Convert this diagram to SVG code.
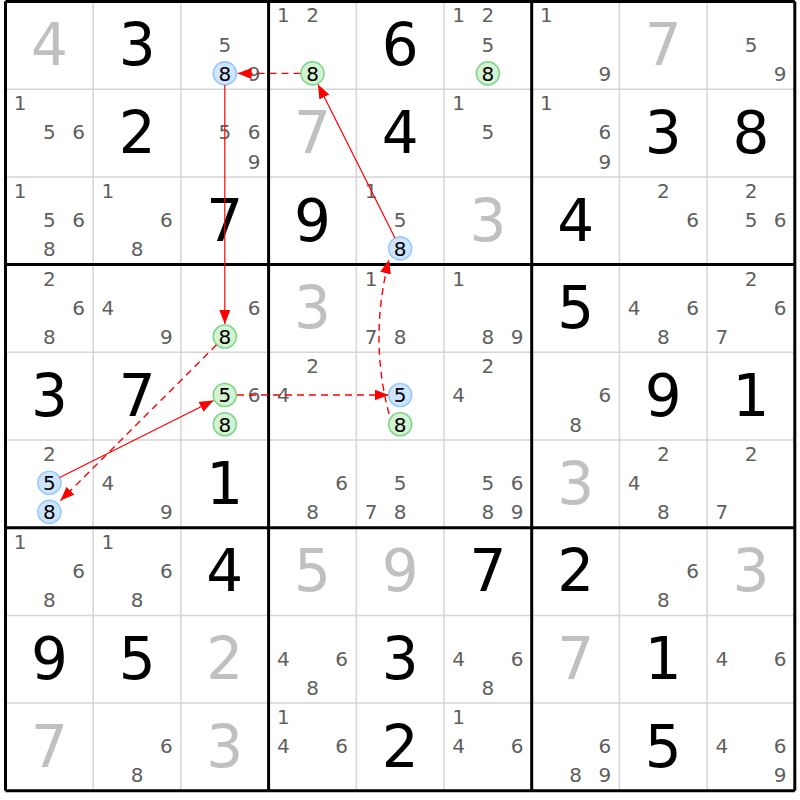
<svg xmlns="http://www.w3.org/2000/svg" width="800" height="800" viewBox="0 0 800 800">
<style>
text{font-family:"DejaVu Sans","Liberation Sans",sans-serif;text-anchor:middle}
.c{font-size:20px;fill:#5f5f5f}
.h{font-size:20px;fill:#000}
.g{font-size:58px;fill:#000}
.s{font-size:58px;fill:#c0c0c0}
.thin{stroke:#d6d6d6;stroke-width:1.5}
.thick{stroke:#000;stroke-width:3}
.cb{fill:#cfe5ff;stroke:#95c8ff;stroke-width:1.6}
.cg{fill:#d3f3d3;stroke:#7fd68a;stroke-width:1.6}
.ar{fill:none;stroke:#ff0000;stroke-width:1.2}
.ad{fill:none;stroke:#ff0000;stroke-width:1.4;stroke-dasharray:7 5}
</style>
<defs>
<marker id="ah" viewBox="0 0 14 11" refX="14" refY="5.5" markerWidth="14" markerHeight="11" orient="auto" markerUnits="userSpaceOnUse"><path d="M0,0 L14,5.5 L0,11 z" fill="#ff0000"/></marker>
</defs>
<rect x="0" y="0" width="800" height="800" fill="#fff"/>
<g id="grid">
<path class="thin" d="M93.2,1.5V790.8M180.9,1.5V790.8M356.3,1.5V790.8M444,1.5V790.8M619.4,1.5V790.8M707.1,1.5V790.8M5.5,89.2H794.8M5.5,176.9H794.8M5.5,352.3H794.8M5.5,440H794.8M5.5,615.4H794.8M5.5,703.1H794.8"/>
<path class="thick" d="M5.5,1.5V790.8M268.6,1.5V790.8M531.7,1.5V790.8M794.8,1.5V790.8M5.5,1.5H794.8M5.5,264.6H794.8M5.5,527.7H794.8M5.5,790.8H794.8"/>
</g>
<g id="r1">
<g id="r1c1"><text class="s" x="49.4" y="65.1">4</text></g>
<g id="r1c2"><text class="g" x="137.1" y="65.1">3</text></g>
<g id="r1c3"><text class="c" x="224.8" y="51.6">5</text><text class="c" x="254" y="80.8">9</text><circle class="cb" cx="224.8" cy="73.4" r="11.5"/><text class="h" x="224.8" y="80.8">8</text></g>
<g id="r1c4"><text class="c" x="283.3" y="22.4">1</text><text class="c" x="312.5" y="22.4">2</text><circle class="cg" cx="312.5" cy="73.4" r="11.5"/><text class="h" x="312.5" y="80.8">8</text></g>
<g id="r1c5"><text class="g" x="400.2" y="65.1">6</text></g>
<g id="r1c6"><text class="c" x="458.7" y="22.4">1</text><text class="c" x="487.9" y="22.4">2</text><text class="c" x="487.9" y="51.6">5</text><circle class="cg" cx="487.9" cy="73.4" r="11.5"/><text class="h" x="487.9" y="80.8">8</text></g>
<g id="r1c7"><text class="c" x="546.4" y="22.4">1</text><text class="c" x="604.8" y="80.8">9</text></g>
<g id="r1c8"><text class="s" x="663.3" y="65.1">7</text></g>
<g id="r1c9"><text class="c" x="751" y="51.6">5</text><text class="c" x="780.2" y="80.8">9</text></g>
</g>
<g id="r2">
<g id="r2c1"><text class="c" x="20.2" y="110.1">1</text><text class="c" x="49.4" y="139.3">5</text><text class="c" x="78.6" y="139.3">6</text></g>
<g id="r2c2"><text class="g" x="137.1" y="152.8">2</text></g>
<g id="r2c3"><text class="c" x="224.8" y="139.3">5</text><text class="c" x="254" y="139.3">6</text><text class="c" x="254" y="168.5">9</text></g>
<g id="r2c4"><text class="s" x="312.5" y="152.8">7</text></g>
<g id="r2c5"><text class="g" x="400.2" y="152.8">4</text></g>
<g id="r2c6"><text class="c" x="458.7" y="110.1">1</text><text class="c" x="487.9" y="139.3">5</text></g>
<g id="r2c7"><text class="c" x="546.4" y="110.1">1</text><text class="c" x="604.8" y="139.3">6</text><text class="c" x="604.8" y="168.5">9</text></g>
<g id="r2c8"><text class="g" x="663.3" y="152.8">3</text></g>
<g id="r2c9"><text class="g" x="751" y="152.8">8</text></g>
</g>
<g id="r3">
<g id="r3c1"><text class="c" x="20.2" y="197.8">1</text><text class="c" x="49.4" y="227">5</text><text class="c" x="78.6" y="227">6</text><text class="c" x="49.4" y="256.2">8</text></g>
<g id="r3c2"><text class="c" x="107.9" y="197.8">1</text><text class="c" x="166.3" y="227">6</text><text class="c" x="137.1" y="256.2">8</text></g>
<g id="r3c3"><text class="g" x="224.8" y="240.5">7</text></g>
<g id="r3c4"><text class="g" x="312.5" y="240.5">9</text></g>
<g id="r3c5"><text class="c" x="371" y="197.8">1</text><text class="c" x="400.2" y="227">5</text><circle class="cb" cx="400.2" cy="248.4" r="11.5"/><text class="h" x="400.2" y="255.8">8</text></g>
<g id="r3c6"><text class="s" x="487.9" y="240.5">3</text></g>
<g id="r3c7"><text class="g" x="575.6" y="240.5">4</text></g>
<g id="r3c8"><text class="c" x="663.3" y="197.8">2</text><text class="c" x="692.5" y="227">6</text></g>
<g id="r3c9"><text class="c" x="751" y="197.8">2</text><text class="c" x="751" y="227">5</text><text class="c" x="780.2" y="227">6</text></g>
</g>
<g id="r4">
<g id="r4c1"><text class="c" x="49.4" y="285.5">2</text><text class="c" x="78.6" y="314.7">6</text><text class="c" x="49.4" y="343.9">8</text></g>
<g id="r4c2"><text class="c" x="107.9" y="314.7">4</text><text class="c" x="166.3" y="343.9">9</text></g>
<g id="r4c3"><text class="c" x="254" y="314.7">6</text><circle class="cg" cx="224.8" cy="336.5" r="11.5"/><text class="h" x="224.8" y="343.9">8</text></g>
<g id="r4c4"><text class="s" x="312.5" y="328.2">3</text></g>
<g id="r4c5"><text class="c" x="371" y="285.5">1</text><text class="c" x="371" y="343.9">7</text><text class="c" x="400.2" y="343.9">8</text></g>
<g id="r4c6"><text class="c" x="458.7" y="285.5">1</text><text class="c" x="487.9" y="343.9">8</text><text class="c" x="517.1" y="343.9">9</text></g>
<g id="r4c7"><text class="g" x="575.6" y="328.2">5</text></g>
<g id="r4c8"><text class="c" x="634.1" y="314.7">4</text><text class="c" x="692.5" y="314.7">6</text><text class="c" x="663.3" y="343.9">8</text></g>
<g id="r4c9"><text class="c" x="751" y="285.5">2</text><text class="c" x="780.2" y="314.7">6</text><text class="c" x="721.8" y="343.9">7</text></g>
</g>
<g id="r5">
<g id="r5c1"><text class="g" x="49.4" y="415.9">3</text></g>
<g id="r5c2"><text class="g" x="137.1" y="415.9">7</text></g>
<g id="r5c3"><text class="c" x="254" y="402.4">6</text><circle class="cg" cx="224.8" cy="395" r="11.5"/><text class="h" x="224.8" y="402.4">5</text><circle class="cg" cx="224.8" cy="424.2" r="11.5"/><text class="h" x="224.8" y="431.6">8</text></g>
<g id="r5c4"><text class="c" x="312.5" y="373.2">2</text><text class="c" x="283.3" y="402.4">4</text></g>
<g id="r5c5"><circle class="cb" cx="400.2" cy="395" r="11.5"/><text class="h" x="400.2" y="402.4">5</text><circle class="cg" cx="400.2" cy="424.2" r="11.5"/><text class="h" x="400.2" y="431.6">8</text></g>
<g id="r5c6"><text class="c" x="487.9" y="373.2">2</text><text class="c" x="458.7" y="402.4">4</text></g>
<g id="r5c7"><text class="c" x="604.8" y="402.4">6</text><text class="c" x="575.6" y="431.6">8</text></g>
<g id="r5c8"><text class="g" x="663.3" y="415.9">9</text></g>
<g id="r5c9"><text class="g" x="751" y="415.9">1</text></g>
</g>
<g id="r6">
<g id="r6c1"><text class="c" x="49.4" y="460.9">2</text><circle class="cb" cx="49.4" cy="482.7" r="11.5"/><text class="h" x="49.4" y="490.1">5</text><circle class="cb" cx="49.4" cy="511.9" r="11.5"/><text class="h" x="49.4" y="519.3">8</text></g>
<g id="r6c2"><text class="c" x="107.9" y="490.1">4</text><text class="c" x="166.3" y="519.3">9</text></g>
<g id="r6c3"><text class="g" x="224.8" y="503.6">1</text></g>
<g id="r6c4"><text class="c" x="341.7" y="490.1">6</text><text class="c" x="312.5" y="519.3">8</text></g>
<g id="r6c5"><text class="c" x="400.2" y="490.1">5</text><text class="c" x="371" y="519.3">7</text><text class="c" x="400.2" y="519.3">8</text></g>
<g id="r6c6"><text class="c" x="487.9" y="490.1">5</text><text class="c" x="517.1" y="490.1">6</text><text class="c" x="487.9" y="519.3">8</text><text class="c" x="517.1" y="519.3">9</text></g>
<g id="r6c7"><text class="s" x="575.6" y="503.6">3</text></g>
<g id="r6c8"><text class="c" x="663.3" y="460.9">2</text><text class="c" x="634.1" y="490.1">4</text><text class="c" x="663.3" y="519.3">8</text></g>
<g id="r6c9"><text class="c" x="751" y="460.9">2</text><text class="c" x="721.8" y="519.3">7</text></g>
</g>
<g id="r7">
<g id="r7c1"><text class="c" x="20.2" y="548.6">1</text><text class="c" x="78.6" y="577.8">6</text><text class="c" x="49.4" y="607">8</text></g>
<g id="r7c2"><text class="c" x="107.9" y="548.6">1</text><text class="c" x="166.3" y="577.8">6</text><text class="c" x="137.1" y="607">8</text></g>
<g id="r7c3"><text class="g" x="224.8" y="591.3">4</text></g>
<g id="r7c4"><text class="s" x="312.5" y="591.3">5</text></g>
<g id="r7c5"><text class="s" x="400.2" y="591.3">9</text></g>
<g id="r7c6"><text class="g" x="487.9" y="591.3">7</text></g>
<g id="r7c7"><text class="g" x="575.6" y="591.3">2</text></g>
<g id="r7c8"><text class="c" x="692.5" y="577.8">6</text><text class="c" x="663.3" y="607">8</text></g>
<g id="r7c9"><text class="s" x="751" y="591.3">3</text></g>
</g>
<g id="r8">
<g id="r8c1"><text class="g" x="49.4" y="679">9</text></g>
<g id="r8c2"><text class="g" x="137.1" y="679">5</text></g>
<g id="r8c3"><text class="s" x="224.8" y="679">2</text></g>
<g id="r8c4"><text class="c" x="283.3" y="665.5">4</text><text class="c" x="341.7" y="665.5">6</text><text class="c" x="312.5" y="694.7">8</text></g>
<g id="r8c5"><text class="g" x="400.2" y="679">3</text></g>
<g id="r8c6"><text class="c" x="458.7" y="665.5">4</text><text class="c" x="517.1" y="665.5">6</text><text class="c" x="487.9" y="694.7">8</text></g>
<g id="r8c7"><text class="s" x="575.6" y="679">7</text></g>
<g id="r8c8"><text class="g" x="663.3" y="679">1</text></g>
<g id="r8c9"><text class="c" x="721.8" y="665.5">4</text><text class="c" x="780.2" y="665.5">6</text></g>
</g>
<g id="r9">
<g id="r9c1"><text class="s" x="49.4" y="766.7">7</text></g>
<g id="r9c2"><text class="c" x="166.3" y="753.2">6</text><text class="c" x="137.1" y="782.4">8</text></g>
<g id="r9c3"><text class="s" x="224.8" y="766.7">3</text></g>
<g id="r9c4"><text class="c" x="283.3" y="724">1</text><text class="c" x="283.3" y="753.2">4</text><text class="c" x="341.7" y="753.2">6</text></g>
<g id="r9c5"><text class="g" x="400.2" y="766.7">2</text></g>
<g id="r9c6"><text class="c" x="458.7" y="724">1</text><text class="c" x="458.7" y="753.2">4</text><text class="c" x="517.1" y="753.2">6</text></g>
<g id="r9c7"><text class="c" x="604.8" y="753.2">6</text><text class="c" x="575.6" y="782.4">8</text><text class="c" x="604.8" y="782.4">9</text></g>
<g id="r9c8"><text class="g" x="663.3" y="766.7">5</text></g>
<g id="r9c9"><text class="c" x="721.8" y="753.2">4</text><text class="c" x="780.2" y="753.2">6</text><text class="c" x="780.2" y="782.4">9</text></g>
</g>
<g id="connectors">
<path class="ar" d="M224.8,85 V324" marker-end="url(#ah)"/>
<path class="ad" d="M300.5,73.4 H237.5" marker-end="url(#ah)"/>
<path class="ar" d="M395,237.9 L318,84.5" marker-end="url(#ah)"/>
<path class="ad" d="M389,414 Q369,338 389,259.5" marker-end="url(#ah)"/>
<path class="ad" d="M237,395 H388.5" marker-end="url(#ah)"/>
<path class="ar" d="M59.7,477.5 L213.5,400.5" marker-end="url(#ah)"/>
<path class="ad" d="M216.5,344.8 L60.5,500.5" marker-end="url(#ah)"/>
</g>
</svg>
